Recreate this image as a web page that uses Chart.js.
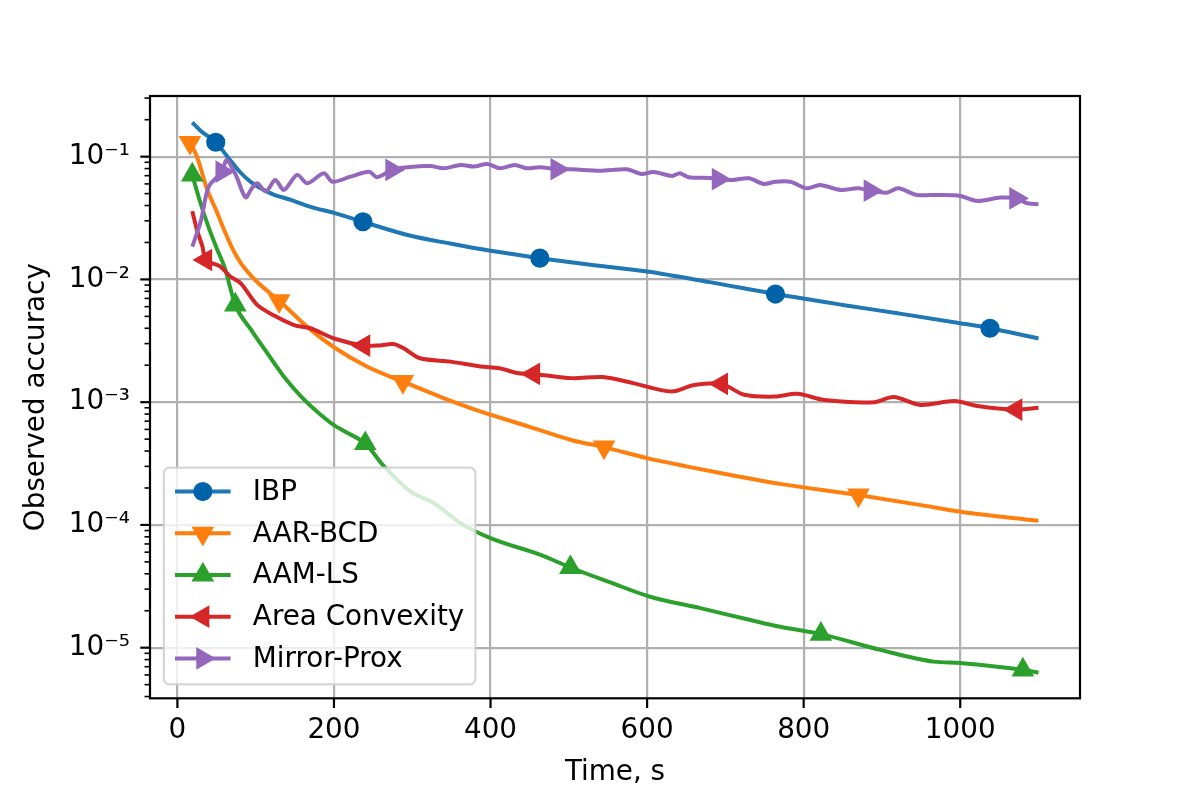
<!DOCTYPE html>
<html>
<head>
<meta charset="utf-8">
<script src="https://cdn.jsdelivr.net/npm/chart.js@4.4.1/dist/chart.umd.min.js"></script>
<style>
html,body{margin:0;padding:0;background:#fff;}
#wrap{width:1200px;height:800px;position:relative;}
</style>
</head>
<body>
<div id="wrap"><canvas id="c" width="1200" height="800"></canvas></div>
<script>
// ---------------- data ----------------
const seriesNames = ['IBP', 'AAR-BCD', 'AAM-LS', 'Area Convexity', 'Mirror-Prox'];

const ibpTime = [19, 30, 49, 65, 80, 94, 120, 145, 170, 200, 237, 294, 350, 400, 463, 530, 600, 680, 764, 850, 920, 1000, 1038, 1100];
const ibpAcc  = [0.19, 0.162, 0.131, 0.098, 0.075, 0.062, 0.05, 0.0444, 0.039, 0.0348, 0.0295, 0.023, 0.0195, 0.0171, 0.0149, 0.0131, 0.0116, 0.0095, 0.0076, 0.0062, 0.0053, 0.0044, 0.0040, 0.0033];
const ibpMarks = [2, 10, 14, 18, 22];

const aarTime = [16, 25, 38, 50, 60, 70, 81, 100, 130, 170, 200, 242, 288, 340, 387, 450, 504, 545, 600, 650, 700, 770, 870, 950, 1000, 1100];
const aarAcc  = [0.13, 0.1, 0.054, 0.036, 0.025, 0.018, 0.0136, 0.0098, 0.0067, 0.0039, 0.0028, 0.00195, 0.00147, 0.00108, 0.00084, 0.00063, 0.00049, 0.00043, 0.00035, 0.0003, 0.00026, 0.000216, 0.000175, 0.000145, 0.000128, 0.000108];
const aarMarks = [0, 8, 12, 17, 22];

const aamTime = [19, 28, 38, 50, 60, 74, 94, 115, 140, 160, 183, 200, 220, 240, 264, 298, 328, 362, 400, 464, 502, 553, 604, 668, 732, 770, 822, 898, 966, 1000, 1030, 1080, 1100];
const aamAcc  = [0.071, 0.045, 0.0287, 0.018, 0.0127, 0.0062, 0.0039, 0.0025, 0.0015, 0.00108, 0.00079, 0.00065, 0.00055, 0.00046, 0.0003, 0.000187, 0.00015, 0.000103, 0.000078, 0.000057, 0.000045, 0.000034, 0.000026, 0.000021, 0.0000168, 0.0000148, 0.0000129, 0.0000096, 0.0000077, 0.0000075, 0.0000072, 0.0000066, 0.00000625];
const aamMarks = [0, 5, 13, 20, 26, 31];

const acTime = [19, 25, 32, 36, 45, 55, 68, 81, 102, 123, 149, 170, 200, 238, 258, 276, 289, 310, 349, 387, 411, 436, 455, 504, 543, 582, 631, 660, 695, 724, 763, 792, 827, 890, 915, 949, 993, 1022, 1071, 1100];
const acAcc  = [0.036, 0.0253, 0.0185, 0.0144, 0.0135, 0.0127, 0.0105, 0.0093, 0.0062, 0.0051, 0.00425, 0.004, 0.0033, 0.00289, 0.0029, 0.00298, 0.00275, 0.00228, 0.00214, 0.00195, 0.00189, 0.00172, 0.0017, 0.00157, 0.0016, 0.00143, 0.00122, 0.00138, 0.00141, 0.00115, 0.00111, 0.00117, 0.00104, 0.001, 0.0011, 0.00095, 0.00102, 0.00093, 0.00087, 0.0009];
const acMarks = [3, 13, 22, 28, 38];

const mpTime = [19, 30, 40, 57, 63, 75, 87, 95, 102, 113, 125, 136, 153, 166, 187, 198, 221, 245, 255, 274, 294, 323, 340, 362, 379, 396, 412, 431, 446, 463, 485, 504, 540, 574, 593, 608, 632, 642, 653, 681, 691, 710, 730, 749, 764, 783, 804, 821, 847, 870, 885, 906, 921, 944, 973, 1000, 1022, 1051, 1071, 1086, 1100];
const mpAcc  = [0.0185, 0.03, 0.057, 0.0755, 0.094, 0.07, 0.0467, 0.055, 0.0607, 0.052, 0.0646, 0.0536, 0.071, 0.0607, 0.0733, 0.0625, 0.0687, 0.0755, 0.068, 0.078, 0.082, 0.084, 0.0805, 0.0856, 0.083, 0.0872, 0.0805, 0.0856, 0.0804, 0.082, 0.079, 0.0789, 0.0769, 0.079, 0.0723, 0.075, 0.0697, 0.0732, 0.068, 0.067, 0.0655, 0.0646, 0.0667, 0.06, 0.0625, 0.0625, 0.0552, 0.0588, 0.0536, 0.0552, 0.0528, 0.0509, 0.0552, 0.0488, 0.0488, 0.0479, 0.0436, 0.0464, 0.0458, 0.0417, 0.041];
const mpMarks = [3, 19, 30, 40, 50, 58];

const xTicks = [0, 200, 400, 600, 800, 1000];
const yMajorExps = [-1, -2, -3, -4, -5];
const xTitle = 'Time, s';
const yTitle = 'Observed accuracy';

// ---------------- style ----------------
const FONT = "'DejaVu Sans', sans-serif";
const FS = 27.8;
const lineColors = ['#1f77b4', '#ff7f0e', '#2ca02c', '#d62728', '#9467bd'];
const markColors = ['#0063a9', '#ff7f0e', '#2ca02c', '#d62728', '#9467bd'];
const markStyles = ['circle', 'triangle', 'triangle', 'triangle', 'triangle'];
const markRot = [0, 180, 0, 270, 90];
const markRad = [8.3, 10.5, 10.5, 10.5, 10.5];
const curveTension = [0, 0, 0, 0.3, 0.3];
const LW = 4;

const sup = {'-':'\u207B','0':'\u2070','1':'\u00B9','2':'\u00B2','3':'\u00B3','4':'\u2074','5':'\u2075','6':'\u2076','7':'\u2077','8':'\u2078','9':'\u2079'};
function powLabel(e){ return '10' + String(e).split('').map(c => sup[c]).join(''); }

const allTimes = [ibpTime, aarTime, aamTime, acTime, mpTime];
const allAcc = [ibpAcc, aarAcc, aamAcc, acAcc, mpAcc];
const allMarks = [ibpMarks, aarMarks, aamMarks, acMarks, mpMarks];

const datasets = seriesNames.map((name, k) => ({
  label: name,
  data: allTimes[k].map((t, i) => ({x: t, y: allAcc[k][i]})),
  borderColor: lineColors[k],
  backgroundColor: markColors[k],
  borderWidth: LW,
  pointStyle: markStyles[k],
  pointRotation: markRot[k],
  pointBackgroundColor: markColors[k],
  pointBorderColor: markColors[k],
  pointBorderWidth: 2.6,
  pointRadius: ctx => allMarks[k].includes(ctx.dataIndex) ? markRad[k] : 0,
  pointHoverRadius: ctx => allMarks[k].includes(ctx.dataIndex) ? markRad[k] : 0,
  cubicInterpolationMode: curveTension[k] > 0 ? 'default' : 'monotone',
  tension: curveTension[k],
  fill: false,
  order: -k
}));

function isMajor(v){ const l = Math.log10(v); return Math.abs(l - Math.round(l)) < 1e-9; }

// frame + tick marks
const framePlugin = {
  id: 'frame',
  afterDatasetsDraw(chart){
    const c = chart.ctx, a = chart.chartArea;
    const xs = chart.scales.x, ys = chart.scales.y;
    c.save();
    c.strokeStyle = '#000';
    c.lineCap = 'butt';
    c.lineWidth = 2.2;
    xTicks.forEach(v => {
      const p = xs.getPixelForValue(v);
      c.beginPath(); c.moveTo(p, a.bottom); c.lineTo(p, a.bottom + 9.7); c.stroke();
    });
    ys.ticks.forEach(t => {
      const p = ys.getPixelForValue(t.value);
      const maj = isMajor(t.value);
      c.lineWidth = maj ? 2.2 : 1.6;
      c.beginPath(); c.moveTo(a.left, p); c.lineTo(a.left - (maj ? 9.7 : 5.5), p); c.stroke();
    });
    c.lineWidth = 2.2;
    c.lineJoin = 'miter';
    c.strokeRect(a.left, a.top, a.right - a.left, a.bottom - a.top);
    c.restore();
  }
};

function drawMarker(c, style, rot, r, x, y){
  c.beginPath();
  if (style === 'circle') {
    c.arc(x, y, r, 0, Math.PI * 2);
  } else {
    let rad = rot * Math.PI / 180;
    c.moveTo(x + Math.sin(rad) * r, y - Math.cos(rad) * r);
    rad += 2 * Math.PI / 3;
    c.lineTo(x + Math.sin(rad) * r, y - Math.cos(rad) * r);
    rad += 2 * Math.PI / 3;
    c.lineTo(x + Math.sin(rad) * r, y - Math.cos(rad) * r);
    c.closePath();
  }
  c.fill(); c.stroke();
}

const legendPlugin = {
  id: 'inlegend',
  afterDraw(chart){
    const c = chart.ctx, a = chart.chartArea;
    const ds = chart.data.datasets;
    c.save();
    c.font = FS + 'px ' + FONT;
    let tw = 0;
    ds.forEach(d => { tw = Math.max(tw, c.measureText(d.label).width); });
    const left = a.left + 0.5 * FS;
    const w = 0.4 * FS + 2 * FS + 0.8 * FS + tw + 0.4 * FS;
    const h = 0.8 * FS + ds.length * FS + (ds.length - 1) * 0.5 * FS;
    const top = a.bottom - 0.5 * FS - h;
    const r = 0.2 * FS;
    c.beginPath();
    c.moveTo(left + r, top);
    c.lineTo(left + w - r, top); c.arcTo(left + w, top, left + w, top + r, r);
    c.lineTo(left + w, top + h - r); c.arcTo(left + w, top + h, left + w - r, top + h, r);
    c.lineTo(left + r, top + h); c.arcTo(left, top + h, left, top + h - r, r);
    c.lineTo(left, top + r); c.arcTo(left, top, left + r, top, r);
    c.closePath();
    c.fillStyle = 'rgba(255,255,255,0.8)';
    c.fill();
    c.strokeStyle = 'rgba(204,204,204,0.8)';
    c.lineWidth = 2.2;
    c.stroke();
    ds.forEach((d, i) => {
      const cy = top + 0.4 * FS + i * 1.5 * FS + 0.5 * FS - 1;
      const x0 = left + 0.4 * FS, x1 = left + 2.4 * FS;
      c.strokeStyle = d.borderColor; c.lineWidth = LW;
      c.beginPath(); c.moveTo(x0, cy); c.lineTo(x1, cy); c.stroke();
      c.fillStyle = d.pointBackgroundColor; c.strokeStyle = d.pointBorderColor; c.lineWidth = 2.6;
      drawMarker(c, d.pointStyle, d.pointRotation, markRad[i], (x0 + x1) / 2, cy);
      c.fillStyle = '#000';
      c.textAlign = 'left'; c.textBaseline = 'middle';
      c.fillText(d.label, left + 3.2 * FS, cy + 1);
    });
    c.restore();
  }
};

Chart.defaults.font.family = FONT;
Chart.defaults.color = '#000';

new Chart(document.getElementById('c').getContext('2d'), {
  type: 'line',
  data: { datasets },
  options: {
    responsive: false,
    animation: false,
    devicePixelRatio: 1,
    layout: { padding: { left: 0, top: 96, right: 120, bottom: 0 } },
    plugins: { legend: { display: false }, tooltip: { enabled: false } },
    events: [],
    scales: {
      x: {
        type: 'linear',
        min: -35,
        max: 1153,
        afterBuildTicks: s => { s.ticks = xTicks.map(v => ({ value: v })); },
        afterFit: s => { s.height = 101.7; },
        grid: { color: '#b0b0b0', lineWidth: 2.2, drawTicks: false },
        border: { display: false },
        ticks: { padding: 16, color: '#000', font: { size: FS }, maxRotation: 0, autoSkip: false,
                 callback: v => String(v) },
        title: { display: true, text: xTitle, color: '#000', font: { size: FS }, padding: { top: 0, bottom: 11 } }
      },
      y: {
        type: 'logarithmic',
        min: 3.87e-6,
        max: 0.312,
        afterBuildTicks: s => {
          const t = [];
          for (let e = -6; e <= 0; e++) {
            for (let m = 1; m <= 9; m++) {
              const v = m * Math.pow(10, e);
              if (v >= s.min && v <= s.max) t.push({ value: v });
            }
          }
          s.ticks = t;
        },
        afterFit: s => { s.width = 150; },
        grid: {
          color: ctx => (ctx.tick && isMajor(ctx.tick.value)) ? '#b0b0b0' : 'rgba(0,0,0,0)',
          lineWidth: 2.2,
          drawTicks: false
        },
        border: { display: false },
        ticks: {
          padding: 20, color: '#000', font: { size: FS }, autoSkip: false,
          callback: v => {
            if (!isMajor(v)) return '';
            const e = Math.round(Math.log10(v));
            return yMajorExps.includes(e) ? powLabel(e) : '';
          }
        },
        title: { display: true, text: yTitle, color: '#000', font: { size: FS }, padding: { top: 20, bottom: 0 } }
      }
    }
  },
  plugins: [framePlugin, legendPlugin]
});
</script>
</body>
</html>
